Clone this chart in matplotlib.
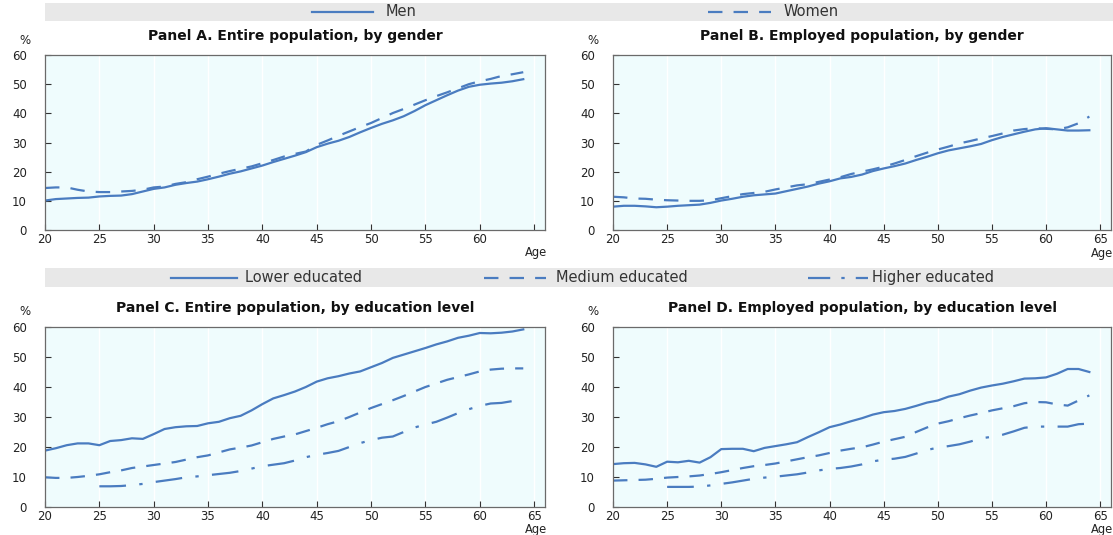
import matplotlib
matplotlib.use("Agg")
import matplotlib.pyplot as plt
from matplotlib.lines import Line2D
from matplotlib.patches import Rectangle

plt.rcParams['font.family'] = ['DejaVu Sans']

ages = list(range(20, 65))
ages_high = list(range(25, 65))

# Panel A: entire population, by gender
a_men = [10.1, 10.6, 10.8, 11.0, 11.1, 11.5, 11.7, 11.8, 12.3, 13.2,
         14.1, 14.6, 15.5, 16.1, 16.6, 17.4, 18.3, 19.3, 20.1, 21.1,
         22.1, 23.3, 24.4, 25.5, 26.7, 28.4, 29.6, 30.6, 31.9, 33.5,
         35.0, 36.4, 37.6, 39.0, 40.8, 42.8, 44.5, 46.2, 47.8, 49.1,
         49.8, 50.2, 50.5, 51.0, 51.7]
a_women = [14.4, 14.6, 14.6, 13.8, 13.2, 13.0, 13.0, 13.2, 13.4, 13.8,
           14.6, 14.9, 15.8, 16.4, 17.4, 18.3, 19.3, 20.2, 21.0, 21.8,
           22.9, 24.0, 25.2, 26.1, 26.9, 29.2, 30.7, 32.3, 33.8, 35.3,
           36.7, 38.4, 40.1, 41.5, 43.0, 44.5, 45.9, 47.2, 48.6, 50.0,
           51.0, 51.8, 52.8, 53.4, 54.1]

# Panel B: employed population, by gender
b_men = [8.0, 8.3, 8.3, 8.1, 7.8, 8.0, 8.3, 8.5, 8.7, 9.3,
         10.1, 10.7, 11.4, 11.9, 12.2, 12.5, 13.3, 14.1, 14.9, 15.9,
         16.7, 17.7, 18.2, 19.0, 20.2, 21.1, 21.9, 22.8, 24.0, 25.1,
         26.3, 27.3, 28.0, 28.7, 29.5, 30.8, 31.9, 32.8, 33.7, 34.5,
         34.9, 34.5, 34.1, 34.1, 34.2]
b_women = [11.4, 11.2, 10.8, 10.7, 10.4, 10.2, 10.1, 10.0, 10.0, 10.2,
           10.9, 11.6, 12.3, 12.7, 13.1, 13.9, 14.6, 15.3, 15.7, 16.5,
           17.3, 18.1, 19.2, 20.0, 20.8, 21.7, 22.8, 24.0, 25.3, 26.5,
           27.6, 28.6, 29.7, 30.5, 31.4, 32.2, 33.1, 34.1, 34.6, 34.9,
           34.7, 34.5, 35.2, 36.6, 38.9]

# Panel C: entire population, by education level
c_low = [18.8, 19.6, 20.6, 21.2, 21.2, 20.6, 22.0, 22.3, 22.9, 22.7,
         24.3, 26.0, 26.6, 26.9, 27.0, 27.9, 28.4, 29.6, 30.4, 32.2,
         34.3, 36.2, 37.3, 38.5, 40.0, 41.8, 42.9, 43.6, 44.5, 45.2,
         46.6, 48.0, 49.7, 50.8, 51.9, 53.0, 54.2, 55.2, 56.4, 57.1,
         58.0, 57.9, 58.1, 58.5, 59.2]
c_med = [9.9, 9.7, 9.7, 10.0, 10.4, 10.9, 11.6, 12.2, 13.0, 13.5,
         14.0, 14.5, 15.0, 15.8, 16.6, 17.2, 18.2, 19.2, 19.8, 20.5,
         21.6, 22.7, 23.5, 24.2, 25.3, 26.4, 27.6, 28.6, 30.0, 31.5,
         33.0, 34.3, 35.6, 37.0, 38.5, 40.0, 41.2, 42.4, 43.3, 44.2,
         45.2, 45.8, 46.1, 46.2, 46.2]
c_high = [6.9, 6.9, 7.0, 7.3, 7.7, 8.3, 8.8, 9.3, 9.9, 10.2,
          10.6, 11.0, 11.4, 12.0, 12.8, 13.6, 14.1, 14.6, 15.5, 16.6,
          17.4, 18.0, 18.7, 20.0, 21.3, 22.3, 23.1, 23.5, 25.0, 26.5,
          27.5, 28.4, 29.8, 31.3, 32.6, 33.7, 34.5, 34.7, 35.3, 35.8]

# Panel D: employed population, by education level
d_low = [14.3, 14.6, 14.7, 14.2, 13.4, 15.1, 14.9, 15.4, 14.8, 16.6,
         19.3, 19.4, 19.4, 18.6, 19.7, 20.3, 20.9, 21.6, 23.3, 24.9,
         26.6, 27.5, 28.6, 29.6, 30.8, 31.6, 32.0, 32.7, 33.7, 34.8,
         35.5, 36.8, 37.6, 38.8, 39.8, 40.5, 41.1, 41.9, 42.8, 42.9,
         43.2, 44.4, 46.0, 46.0, 45.0]
d_med = [8.8, 8.9, 9.0, 9.1, 9.4, 9.8, 10.0, 10.2, 10.5, 11.0,
         11.6, 12.3, 13.0, 13.6, 14.0, 14.5, 15.2, 15.9, 16.6, 17.2,
         18.0, 18.8, 19.4, 19.9, 20.8, 21.8, 22.6, 23.4, 25.0, 26.5,
         27.8, 28.6, 29.6, 30.5, 31.3, 32.2, 32.9, 33.6, 34.6, 35.0,
         34.9, 34.2, 33.8, 35.5, 37.2]
d_high = [6.7, 6.7, 6.7, 6.8, 7.2, 7.7, 8.2, 8.8, 9.4, 9.8,
          10.1, 10.5, 10.9, 11.5, 12.2, 12.7, 13.0, 13.5, 14.2, 15.2,
          15.8, 16.1, 16.7, 17.8, 19.0, 19.8, 20.3, 20.9, 21.8, 22.9,
          23.4, 24.1, 25.2, 26.4, 26.8, 26.8, 26.8, 26.8, 27.6, 27.8]

titles = ["Panel A. Entire population, by gender",
          "Panel B. Employed population, by gender",
          "Panel C. Entire population, by education level",
          "Panel D. Employed population, by education level"]
gender_labels = ["Men", "Women"]
edu_labels = ["Lower educated", "Medium educated", "Higher educated"]
x_ticks = [20, 25, 30, 35, 40, 45, 50, 55, 60, 65]
y_ticks = [0, 10, 20, 30, 40, 50, 60]

BLUE = "#4a7cc0"
BG = "#effcfd"
FRAME = "#6a6a6a"
TXT = "#222222"
LW = 1.6
STY_SOLID = dict(linestyle="-")
STY_DASH = dict(linestyle=(0, (6.5, 5.0)))
STY_DASHDOT = dict(linestyle=(0, (12, 6, 1.5, 6)))

W, H = 1113, 535
fig = plt.figure(figsize=(W / 100, H / 100), dpi=100)


def px_axes(l, t, r, b):
    return fig.add_axes([l / W, (H - b) / H, (r - l) / W, (b - t) / H])


def style(ax, title, right_px, age_top_px, show65=True):
    ax.set_facecolor(BG)
    ax.set_xlim(20, 66)
    ax.set_ylim(0, 60)
    ax.set_xticks(x_ticks)
    ax.set_yticks(y_ticks)
    xl = [str(t) for t in x_ticks]
    if not show65:
        xl[-1] = ""
    ax.set_xticklabels(xl)
    ax.grid(axis="x", color="white", lw=1.0)
    ax.set_axisbelow(True)
    for s in ax.spines.values():
        s.set_color(FRAME)
        s.set_linewidth(0.9)
    ax.tick_params(axis="both", direction="in", length=4, width=0.8,
                   color="#333333", labelsize=8.5, labelcolor=TXT)
    ax.tick_params(axis="y", pad=13)
    ax.tick_params(axis="x", pad=2.5)
    ax.set_title(title, fontsize=10, fontweight="bold", color="#111111", pad=11)
    ax.text(-0.04, 1.085, "%", transform=ax.transAxes, fontsize=8.5,
            color=TXT, ha="center", va="center")
    fig.text((right_px + 2) / W, (H - age_top_px) / H, "Age", fontsize=8.3,
             color=TXT, ha="right", va="top")


axA = px_axes(45, 55, 545, 230)
axB = px_axes(613, 55, 1111, 230)
axC = px_axes(45, 327, 545, 507)
axD = px_axes(613, 327, 1111, 507)

axA.plot(ages, a_men, color=BLUE, lw=LW, **STY_SOLID)
axA.plot(ages, a_women, color=BLUE, lw=LW, **STY_DASH)
axB.plot(ages, b_men, color=BLUE, lw=LW, **STY_SOLID)
axB.plot(ages, b_women, color=BLUE, lw=LW, **STY_DASH)
axC.plot(ages, c_low, color=BLUE, lw=LW, **STY_SOLID)
axC.plot(ages, c_med, color=BLUE, lw=LW, **STY_DASH)
axC.plot(ages_high, c_high, color=BLUE, lw=LW, **STY_DASHDOT)
axD.plot(ages, d_low, color=BLUE, lw=LW, **STY_SOLID)
axD.plot(ages, d_med, color=BLUE, lw=LW, **STY_DASH)
axD.plot(ages_high, d_high, color=BLUE, lw=LW, **STY_DASHDOT)

style(axA, titles[0], 545, 246, show65=False)
style(axB, titles[1], 1111, 247)
style(axC, titles[2], 545, 523)
style(axD, titles[3], 1111, 523)


def legend_bar(top, bot, entries):
    fig.patches.append(Rectangle((45 / W, (H - bot) / H), (W - 45) / W, (bot - top) / H,
                                 transform=fig.transFigure, facecolor="#e8e8e8",
                                 edgecolor="none", zorder=0))
    yc = (H - (top + bot) / 2) / H
    for x0, x1, xt, lab, sty in entries:
        fig.add_artist(Line2D([x0 / W, x1 / W], [yc, yc], transform=fig.transFigure,
                              color=BLUE, lw=LW, **sty))
        fig.text(xt / W, yc, lab, fontsize=10.5, color="#333333", ha="left", va="center")


legend_bar(3, 21, [(312, 373, 386, gender_labels[0], STY_SOLID),
                   (708, 771, 784, gender_labels[1], STY_DASH)])
legend_bar(268, 287, [(171, 237, 245, edu_labels[0], STY_SOLID),
                      (484, 546, 556, edu_labels[1], STY_DASH),
                      (808, 868, 872, edu_labels[2], dict(linestyle=(0, (10, 5, 1.5, 5))))])

fig.savefig("out.png", dpi=100)
